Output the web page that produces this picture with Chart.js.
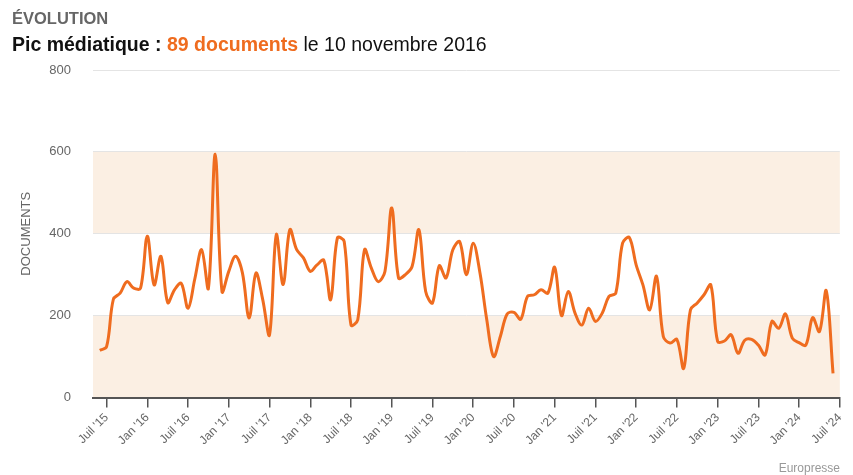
<!DOCTYPE html>
<html lang="fr">
<head>
<meta charset="utf-8">
<script src="https://cdn.jsdelivr.net/npm/chart.js@4.4.1/dist/chart.umd.min.js"></script>
<style>
	body { margin: 0; background: #fff; font-family: "Liberation Sans", Arial, sans-serif; }
	#wrap { position: relative; width: 853px; height: 475px; }
	#chart { position: absolute; left: 0; top: 0; }
	.kicker { position: absolute; left: 12px; top: 9px; font-size: 16.5px; font-weight: bold; color: #666; }
	.headline { position: absolute; left: 12px; top: 33px; font-size: 19.5px; color: #111; white-space: nowrap; }
	.headline b.hl { color: #ef6c1f; }
	.source { position: absolute; right: 13px; top: 461px; font-size: 12px; color: #999; }
</style>
</head>
<body>
<div id="wrap">
	<canvas id="chart" width="853" height="475"></canvas>
	<div class="kicker">ÉVOLUTION</div>
	<div class="headline"><b>Pic médiatique : </b><b class="hl">89 documents</b> le 10 novembre 2016</div>
	<div class="source">Europresse</div>
</div>
<script>
// monthly document counts, June 2015 -> June 2024 (x = months since Jan 2015)
const firstMonth = 5;
const documents = [
	115, 124, 240, 255, 283, 267, 267, 394, 275, 345, 232, 263, 279, 218, 290, 361, 267, 594, 259, 308,
	345, 305, 194, 304, 239, 153, 398, 276, 410, 361, 341, 308, 324, 335, 239, 390, 381, 177, 190, 361,
	316, 283, 308, 463, 292, 300, 320, 410, 259, 231, 322, 292, 361, 381, 300, 377, 304, 190, 100, 149,
	204, 208, 191, 247, 251, 263, 255, 318, 200, 259, 206, 177, 218, 186, 206, 247, 255, 377, 391, 324,
	275, 214, 296, 149, 133, 142, 71, 214, 231, 251, 275, 137, 138, 153, 108, 140, 142, 128, 104, 186,
	169, 204, 145, 134, 128, 195, 161, 261, 59
];
const tickMonths = [6, 12, 18, 24, 30, 36, 42, 48, 54, 60, 66, 72, 78, 84, 90, 96, 102, 108, 114];
const tickLabels = ["Juil '15", "Jan '16", "Juil '16", "Jan '17", "Juil '17", "Jan '18", "Juil '18", "Jan '19", "Juil '19",
	"Jan '20", "Juil '20", "Jan '21", "Juil '21", "Jan '22", "Juil '22", "Jan '23", "Juil '23", "Jan '24", "Juil '24"];
const yTicks = [0, 200, 400, 600, 800];

const points = documents.map((v, i) => ({x: firstMonth + i, y: v}));

// alternating beige bands between y ticks
const bands = {
	id: 'bands',
	beforeDraw(chart) {
		const {ctx, chartArea} = chart;
		const y = chart.scales.y;
		ctx.save();
		ctx.fillStyle = '#fbefe3';
		for (let i = 0; i < yTicks.length - 1; i += 2) {
			const top = y.getPixelForValue(yTicks[i + 1]);
			const bottom = y.getPixelForValue(yTicks[i]);
			ctx.fillRect(chartArea.left, top, chartArea.right - chartArea.left, bottom - top);
		}
		ctx.restore();
	}
};

Chart.defaults.font.family = '"Liberation Sans", Arial, sans-serif';

new Chart(document.getElementById('chart'), {
	type: 'line',
	data: {
		datasets: [{
			data: points,
			borderColor: '#ef6c1f',
			borderWidth: 3,
			pointRadius: 0,
			tension: 0.35,
			fill: false
		}]
	},
	options: {
		responsive: false,
		animation: false,
		devicePixelRatio: 1,
		layout: {padding: {top: 70, right: 13, left: 0, bottom: 0}},
		plugins: {legend: {display: false}, tooltip: {enabled: false}},
		scales: {
			x: {
				type: 'linear',
				min: 4,
				max: 114,
				afterFit: (scale) => { scale.height = 77.5; },
				afterBuildTicks: (scale) => { scale.ticks = tickMonths.map(v => ({value: v})); },
				grid: {drawOnChartArea: false, drawTicks: true, tickLength: 10, color: '#555', lineWidth: 1.5},
				border: {color: '#555', width: 2},
				ticks: {
					color: '#666',
					font: {size: 12},
					minRotation: 45,
					maxRotation: 45,
					padding: 3,
					autoSkip: false,
					callback: (v) => tickLabels[tickMonths.indexOf(v)]
				}
			},
			y: {
				min: 0,
				max: 800,
				afterFit: (scale) => { scale.width = 93; },
				afterBuildTicks: (scale) => { scale.ticks = yTicks.map(v => ({value: v})); },
				grid: {color: '#e4e4e4', drawTicks: false},
				border: {display: false},
				ticks: {color: '#666', font: {size: 13}, padding: 22},
				title: {display: true, text: 'DOCUMENTS', color: '#666', font: {size: 13}, padding: {top: 19, bottom: 0}}
			}
		}
	},
	plugins: [bands]
});
</script>
</body>
</html>
